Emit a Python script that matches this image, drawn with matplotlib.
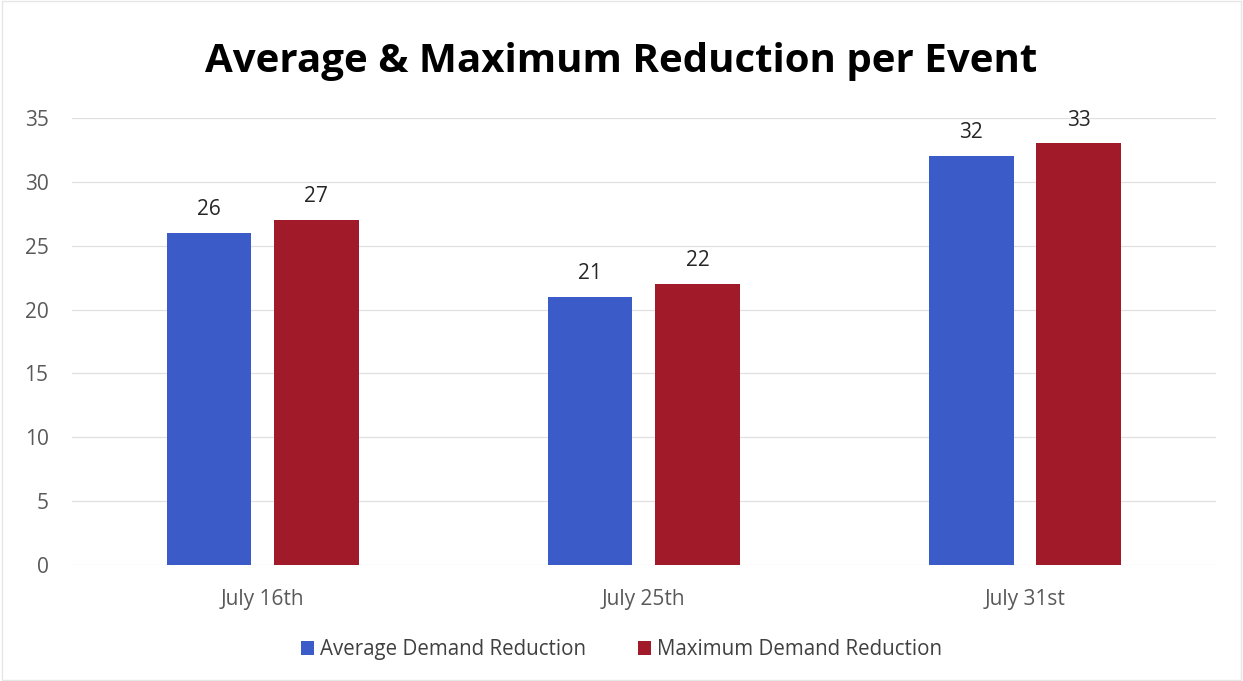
import matplotlib.pyplot as plt
import numpy as np

plt.rcParams['font.family'] = ['Open Sans', 'DejaVu Sans']

events = ["July 16th", "July 25th", "July 31st"]
avg_reduction = [26, 21, 32]
max_reduction = [27, 22, 33]

blue = "#3b5cc8"
red = "#a01a2a"

fig = plt.figure(figsize=(12.43, 6.81), dpi=100)
ax = fig.add_axes([0.058, 0.170, 0.920, 0.657])

x = np.arange(len(events))
w = 0.222
off = 0.141
b1 = ax.bar(x - off, avg_reduction, w, color=blue, label="Average Demand Reduction", zorder=3)
b2 = ax.bar(x + off, max_reduction, w, color=red, label="Maximum Demand Reduction", zorder=3)

for bars in (b1, b2):
    for b in bars:
        ax.text(b.get_x() + b.get_width() / 2, b.get_height() + 1.0, str(int(b.get_height())),
                ha='center', va='bottom', fontsize=15, color='#262626')

ax.set_xlim(-0.5, 2.5)
ax.set_ylim(0, 35)
ax.set_yticks(range(0, 36, 5))
ax.set_xticks(x)
ax.set_xticklabels(events)
ax.tick_params(axis='both', length=0, labelsize=15, colors='#595959')
ax.tick_params(axis='y', pad=17)
ax.tick_params(axis='x', pad=17)
ax.yaxis.grid(True, color='#e0e0e0', linewidth=0.9, zorder=0)
for s in ax.spines.values():
    s.set_visible(False)

fig.text(0.5, 0.910, "Average & Maximum Reduction per Event", ha='center', va='center',
         fontsize=29, fontweight='bold', color='black')

fig.legend(loc='center', bbox_to_anchor=(0.5, 0.046), ncol=2, frameon=False,
           fontsize=14.8, handlelength=0.65, handleheight=0.65, columnspacing=2.5,
           handletextpad=0.3, labelcolor='#404040')

fig.patches.append(plt.Rectangle((0.002, 0.002), 0.996, 0.996, transform=fig.transFigure,
                                 fill=False, edgecolor='#e6e6e6', linewidth=1))

fig.savefig("out.png", dpi=100)
